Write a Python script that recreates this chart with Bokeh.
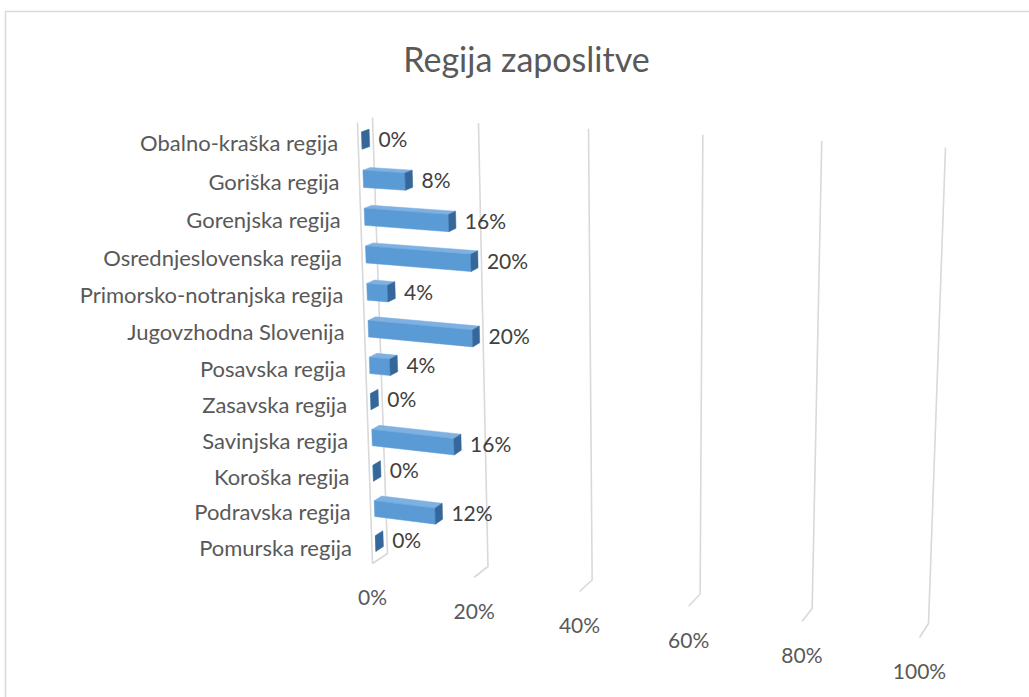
import numpy as np
from bokeh.plotting import figure
from bokeh.models import Range1d
from bokeh.core.properties import value
from bokeh.embed import file_html
from bokeh.resources import INLINE

# ---------------- data ----------------
title = "Regija zaposlitve"
categories = [
    "Obalno-kraška regija",
    "Goriška regija",
    "Gorenjska regija",
    "Osrednjeslovenska regija",
    "Primorsko-notranjska regija",
    "Jugovzhodna Slovenija",
    "Posavska regija",
    "Zasavska regija",
    "Savinjska regija",
    "Koroška regija",
    "Podravska regija",
    "Pomurska regija",
]
shares = [0.00, 0.08, 0.16, 0.20, 0.04, 0.20, 0.04, 0.00, 0.16, 0.00, 0.12, 0.00]
ticks = [0.0, 0.2, 0.4, 0.6, 0.8, 1.0]
tick_labels = ["0%", "20%", "40%", "60%", "80%", "100%"]

# ---------------- 3D-like projection (layout) ----------------
W, H = 1029, 697


def fit_h(src, dst):
    A, b = [], []
    for (x, y), (u, v) in zip(src, dst):
        A.append([x, y, 1, 0, 0, 0, -u * x, -u * y]); b.append(u)
        A.append([0, 0, 0, x, y, 1, -v * x, -v * y]); b.append(v)
    h = np.linalg.solve(np.array(A, float), np.array(b, float))
    return np.append(h, 1).reshape(3, 3)


unit = [(0, 0), (1, 0), (0, 1), (1, 1)]
H_back = fit_h(unit, [(372, 117), (945, 147), (387, 553), (928, 623)])
H_front = fit_h(unit, [(357, 122), (936, 156), (372, 563), (919, 637)])


def hp(Hm, v, t):
    p = Hm @ np.array([v, t, 1.0])
    return p[0] / p[2], p[1] / p[2]


def P(v, t, d):
    bx, by = hp(H_back, v, t)
    fx, fy = hp(H_front, v, t)
    return (1 - d) * bx + d * fx, (1 - d) * by + d * fy


n = len(categories)
slot = 1.0 / n
half = slot * 0.45 / 2
d_back, d_front = 0.25, 0.75

p = figure(width=W, height=H, x_range=Range1d(0, W), y_range=Range1d(H, 0),
           output_backend="svg", toolbar_location=None, min_border=0)
p.axis.visible = False
p.grid.visible = False
p.outline_line_color = None
p.background_fill_color = "white"
p.border_fill_color = "white"

# chart border
p.line([5, 5, W + 20], [H + 20, 11, 11], line_color="#d9d9d9", line_width=1.5)

# gridlines (back wall + floor)
gx, gy = [], []
for v in ticks:
    pts = [P(v, 0, 0), P(v, 1, 0), P(v, 1, 1)]
    gx.append([q[0] for q in pts]); gy.append([q[1] for q in pts])
pts = [P(0, 0, 1), P(0, 1, 1)]
gx.append([q[0] for q in pts]); gy.append([q[1] for q in pts])
p.multi_line(gx, gy, line_color="#d9d9d9", line_width=1.6)

# bars
top_x, top_y, fr_x, fr_y, cap_x, cap_y = [], [], [], [], [], []
lab_x, lab_y, lab_t = [], [], []
cat_x, cat_y = [], []
for i, (c, s) in enumerate(zip(categories, shares)):
    tc = (i + 0.5) * slot
    t0, t1 = tc - half, tc + half
    q = [P(0, t0, d_back), P(s, t0, d_back), P(s, t0, d_front), P(0, t0, d_front)]
    top_x.append([a[0] for a in q]); top_y.append([a[1] for a in q])
    q = [P(0, t0, d_front), P(s, t0, d_front), P(s, t1, d_front), P(0, t1, d_front)]
    fr_x.append([a[0] for a in q]); fr_y.append([a[1] for a in q])
    q = [P(s, t0, d_front), P(s, t0, d_back), P(s, t1, d_back), P(s, t1, d_front)]
    cap_x.append([a[0] for a in q]); cap_y.append([a[1] for a in q])
    lx, ly = P(s, tc, d_back)
    lab_x.append(lx + 9); lab_y.append(ly + 1)
    lab_t.append(f"{round(s * 100)}%")
    cx, cy = P(0, tc, 1)
    cat_x.append(cx - 20); cat_y.append(cy + 1)

p.patches(top_x, top_y, fill_color="#7eb0e2", line_color="#7eb0e2", line_width=0.5)
p.patches(fr_x, fr_y, fill_color="#5b9bd5", line_color="#5b9bd5", line_width=0.5)
p.patches(cap_x, cap_y, fill_color="#35679a", line_color="#35679a", line_width=0.5)

FONT = value("Lato")
p.text(lab_x, lab_y, text=lab_t, text_font=FONT, text_font_size="21px",
       text_color="#404040", text_align="left", text_baseline="middle")
p.text(cat_x, cat_y, text=categories, text_font=FONT, text_font_size="22px",
       text_color="#595959", text_align="right", text_baseline="middle")

# value axis tick labels
tx, ty = [], []
for v in ticks:
    x, y = P(v, 1, 1)
    tx.append(x); ty.append(y + 33)
p.text(tx, ty, text=tick_labels, text_font=FONT, text_font_size="21px",
       text_color="#595959", text_align="center", text_baseline="middle")

# title
p.text([526], [58], text=[title], text_font=FONT, text_font_size="34px",
       text_color="#595959", text_align="center", text_baseline="middle")

open("out.html", "w").write(file_html(p, INLINE))
